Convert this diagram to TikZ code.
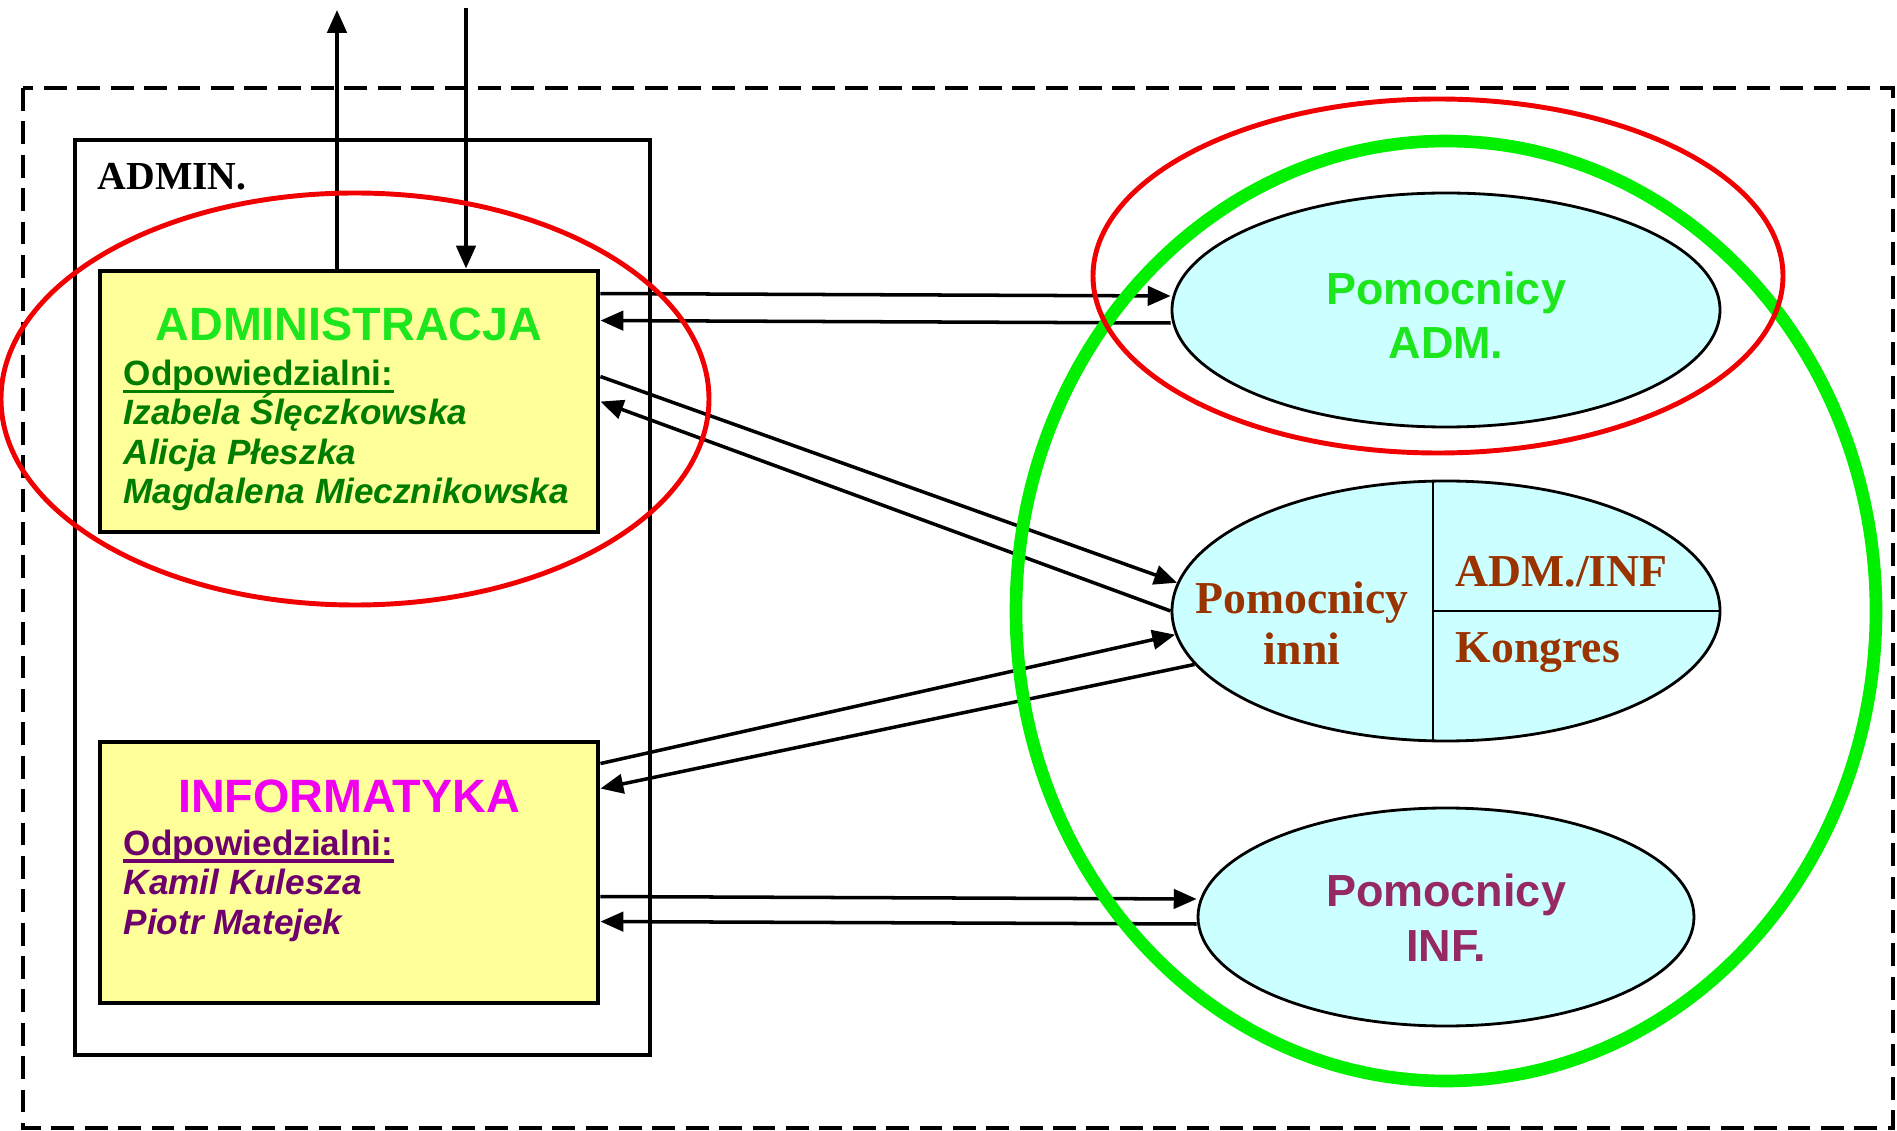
\documentclass[tikz,border=0pt]{standalone}
\usepackage{fontspec}
\setmainfont{Liberation Sans}
\newfontfamily\timesf{Liberation Serif}
\usetikzlibrary{calc,arrows.meta,shapes.geometric}

\definecolor{boxyellow}{RGB}{255,255,153}
\definecolor{cellcyan}{RGB}{204,255,255}
\definecolor{lightgr}{RGB}{30,230,30}
\definecolor{darkgr}{RGB}{0,125,0}
\definecolor{magent}{RGB}{240,0,240}
\definecolor{purp}{RGB}{110,0,110}
\definecolor{plum}{RGB}{150,40,100}
\definecolor{brownish}{RGB}{153,51,0}
\definecolor{ringgreen}{RGB}{0,240,0}
\definecolor{ringred}{RGB}{240,0,0}

\tikzset{
	ybox/.style={draw, line width=1.4pt, fill=boxyellow, inner sep=0pt},
	cell/.style={ellipse, draw, line width=0.8pt, fill=cellcyan, inner sep=0pt},
	arr/.style={line width=1pt, -{Triangle[length=6.5pt,width=5.5pt]}},
	title/.style={anchor=base, inner sep=0pt, font=\bfseries\fontsize{13.3}{15}\selectfont},
	head/.style={anchor=base west, inner sep=0pt, font=\bfseries\fontsize{10}{12}\selectfont},
	who/.style={anchor=base west, inner sep=0pt, font=\bfseries\itshape\fontsize{10}{12}\selectfont},
	helper/.style={anchor=base, inner sep=0pt, font=\bfseries\fontsize{12.8}{15}\selectfont},
	serifb/.style={inner sep=0pt, font=\timesf\bfseries\fontsize{13}{15}\selectfont, text=brownish},
	uline/.style={line width=1.1pt}
}

\begin{document}
\begin{tikzpicture}[x=0.1mm,y=-0.1mm]
	\useasboundingbox (0,0) rectangle (1897,1131);
	\draw[line width=0.9pt, dash pattern=on 6.5pt off 3pt] (23,88) rectangle (1893,1128);
	
	% left side
	\node[draw, line width=1.1pt, minimum width=57.5mm, minimum height=91.5mm, inner sep=0pt] (admbox) at (362.5,597.5) {};
	\node[anchor=base west, inner sep=0pt, font=\timesf\bfseries\fontsize{11.3}{13}\selectfont] (admlbl) at (97,190) {ADMIN.};
	
	\node[ybox, minimum width=49.8mm, minimum height=26.1mm] (adm) at (349,401.5) {};
	\node[title, text=lightgr] (admT) at (349,341) {ADMINISTRACJA};
	\node[head, text=darkgr] (admO) at (123,385.5) {Odpowiedzialni:};
	\draw[uline, darkgr] ($(admO.base west)+(0,6)$) -- ($(admO.base east)+(0,6)$);
	\node[who, text=darkgr] (admA) at (123,425) {Izabela Ślęczkowska};
	\node[who, text=darkgr] (admB) at (123,464.5) {Alicja Płeszka};
	\node[who, text=darkgr] (admC) at (123,504) {Magdalena Miecznikowska};
	
	\node[ybox, minimum width=49.8mm, minimum height=26.1mm] (inf) at (349,872.5) {};
	\node[title, text=magent] (infT) at (349,812) {INFORMATYKA};
	\node[head, text=purp] (infO) at (123,855) {Odpowiedzialni:};
	\draw[uline, purp] ($(infO.base west)+(0,6)$) -- ($(infO.base east)+(0,6)$);
	\node[who, text=purp] (infA) at (123,894) {Kamil Kulesza};
	\node[who, text=purp] (infB) at (123,934) {Piotr Matejek};
	
	% right side
	\node[cell, minimum width=54.8mm, minimum height=23.4mm] (padm) at (1446,310) {};
	\node[helper, text=lightgr] (padmA) at (1446,305) {Pomocnicy};
	\node[helper, text=lightgr] (padmB) at (1446,359) {ADM.};
	
	\node[cell, minimum width=54.8mm, minimum height=26mm] (inni) at (1446,611) {};
	\begin{scope}
		\clip (1446,611) ellipse [x radius=27.4mm, y radius=13mm];
		\draw[line width=0.8pt] (1433,470) -- (1433,760);
		\draw[line width=0.8pt] (1433,611) -- (1740,611);
	\end{scope}
	\node[serifb, anchor=base] (inniA) at (1302,613.5) {Pomocnicy};
	\node[serifb, anchor=base] (inniB) at (1302,665) {inni};
	\node[serifb, anchor=base west] (inniC) at (1455,587) {ADM./INF};
	\node[serifb, anchor=base west] (inniD) at (1455,662.5) {Kongres};
	
	\node[cell, minimum width=49.6mm, minimum height=21.8mm] (pinf) at (1446,917) {};
	\node[helper, text=plum] (pinfA) at (1446,907) {Pomocnicy};
	\node[helper, text=plum] (pinfB) at (1446,961) {INF.};
	
	% connectors
	\coordinate (outTop) at (337,10);
	\coordinate (inTop) at (466,8);
	\draw[arr] (outTop |- adm.north) -- (outTop);
	\draw[arr] (inTop) -- (inTop |- adm.north);
	
	\draw[arr] ($(adm.north east)+(0,25)$) -- ($(padm.west)+(0,-14)$);
	\draw[arr] ($(padm.west)+(0,13)$) -- ($(adm.north east)+(0,52)$);
	\draw[arr] ($(adm.north east)+(0,108)$) -- (inni.174);
	\draw[arr] (inni.west) -- ($(adm.north east)+(0,133)$);
	\draw[arr] ($(inf.north east)+(0,24)$) -- (inni.185);
	\draw[arr] (inni.192) -- ($(inf.north east)+(0,49)$);
	\draw[arr] ($(inf.north east)+(0,157)$) -- ($(pinf.west)+(0,-18)$);
	\draw[arr] ($(pinf.west)+(0,7)$) -- ($(inf.north east)+(0,182)$);
	
	% rings
	\draw[ringgreen, line width=3.6pt] (1446,611) ellipse [x radius=43mm, y radius=47mm];
	\draw[ringred, line width=1.4pt] (355,399) ellipse [x radius=35.4mm, y radius=20.6mm];
	\draw[ringred, line width=1.4pt] (1438,276) ellipse [x radius=34.5mm, y radius=17.7mm];
\end{tikzpicture}
\end{document}
